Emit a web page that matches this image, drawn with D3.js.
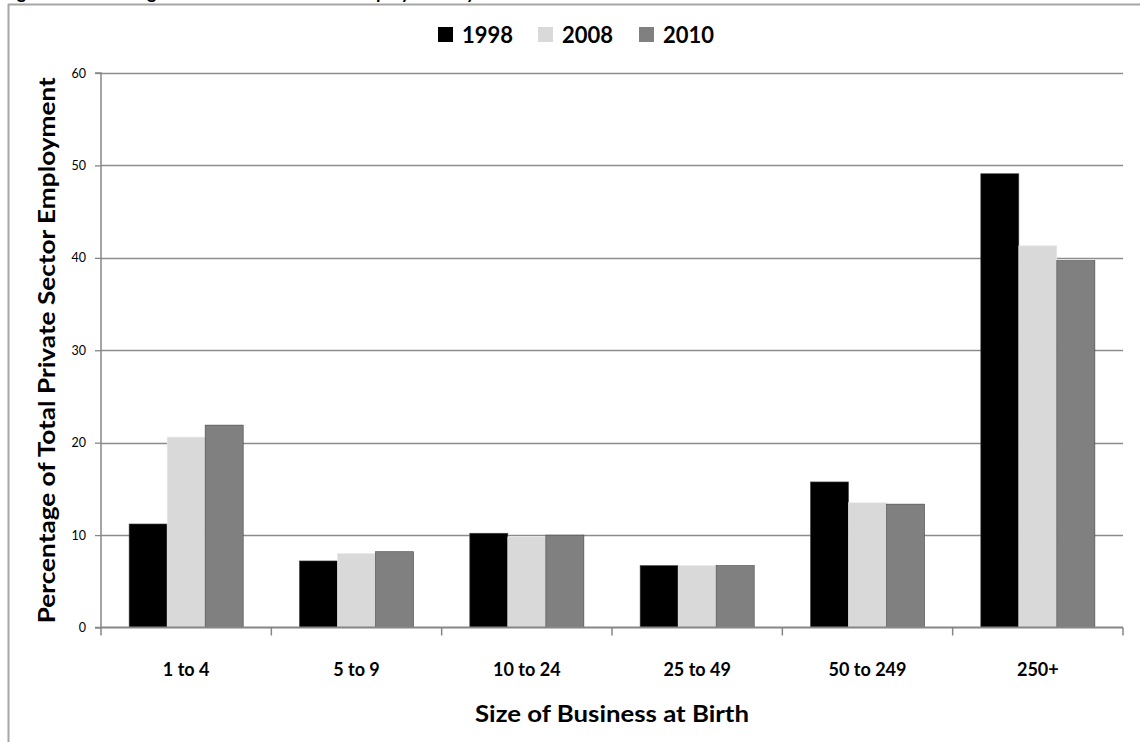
<!DOCTYPE html>
<html><head><meta charset="utf-8">
<script src="https://cdn.jsdelivr.net/npm/d3@7"></script>
<style>
html,body{margin:0;padding:0;background:#fff;}
svg{display:block;}
text{font-family:Lato,"Open Sans",sans-serif;}
</style></head>
<body><svg id="c" width="1140" height="742"></svg>
<script>
const categories = ["1 to 4","5 to 9","10 to 24","25 to 49","50 to 249","250+"];
const seriesNames = ["1998","2008","2010"];
const values1998 = [11.2, 7.2, 10.2, 6.7, 15.75, 49.1];
const values2008 = [20.6, 8.0, 9.8, 6.7, 13.5, 41.3];
const values2010 = [21.9, 8.2, 10.0, 6.7, 13.35, 39.7];
const colors = ["#000000","#d9d9d9","#808080"];
const yTicks = [0,10,20,30,40,50,60];

const seriesValues = [values1998, values2008, values2010];
const svg = d3.select("#c");

// frame
svg.append("line").attr("x1",8).attr("x2",1140).attr("y1",4.5).attr("y2",4.5).attr("stroke","#a6a6a6").attr("stroke-width",2);
svg.append("line").attr("x1",8.5).attr("x2",8.5).attr("y1",4).attr("y2",742).attr("stroke","#a6a6a6").attr("stroke-width",2);
// title (cut off at the top edge, as in the source)
svg.append("text").attr("x",2).attr("y",-1).attr("font-weight","bold").attr("font-size",18)
  .text("Figure 4: Percentage of Total Private Sector Employment by Size of Business at Birth");

const pLeft = 101, pRight = 1123, pTop = 73, pBottom = 627.5;
const x0 = d3.scaleBand().domain(categories).range([pLeft,pRight]).padding(0);
const x1 = d3.scaleBand().domain(seriesNames).range([0,x0.bandwidth()]).paddingInner(0).paddingOuter(0.74);
const y = d3.scaleLinear().domain([0,60]).range([pBottom,pTop]);

// gridlines
svg.append("g").selectAll("line").data(yTicks.filter(d=>d>0)).join("line")
  .attr("x1",pLeft).attr("x2",pRight).attr("y1",d=>Math.round(y(d))+0.5).attr("y2",d=>Math.round(y(d))+0.5)
  .attr("stroke","#8c8c8c").attr("stroke-width",1.3);

// y axis
const yAxis = svg.append("g").attr("transform",`translate(${pLeft},0)`)
  .call(d3.axisLeft(y).tickValues(yTicks).tickSize(6).tickPadding(9));
yAxis.select(".domain").attr("stroke","#868686").attr("stroke-width",1.5).attr("d",`M-6,${y(60)}H0V${pBottom}H-6`);
yAxis.selectAll(".tick line").attr("stroke","#868686").attr("stroke-width",1.3);
yAxis.selectAll(".tick text").attr("font-family","'DejaVu Sans',sans-serif").attr("font-size",12.5).attr("fill","#000");

// bars
const groups = svg.append("g").selectAll("g").data(categories).join("g")
  .attr("transform",d=>`translate(${x0(d)},0)`);
groups.selectAll("rect").data((c,i)=>seriesNames.map((s,j)=>({s, v:seriesValues[j][i], j}))).join("rect")
  .attr("x",d=>x1(d.s)).attr("width",x1.bandwidth())
  .attr("y",d=>y(d.v)).attr("height",d=>y(0)-y(d.v))
  .attr("fill",d=>colors[d.j]).attr("stroke",d=>d.j===1?"#e8e8e8":"#444").attr("stroke-width",0.6);

// x axis
const xAxis = svg.append("g").attr("transform",`translate(0,${pBottom})`)
  .call(d3.axisBottom(x0).tickSize(0).tickPadding(36));
xAxis.select(".domain").attr("stroke","#868686").attr("stroke-width",1.8).attr("d",`M${pLeft},0H${pRight}`);
xAxis.selectAll(".tick text").attr("font-weight","bold").attr("font-size",18).attr("fill","#000")
  .attr("dy","0.71em");
// category boundary ticks
const bounds = categories.map(c=>x0(c)).concat([pRight]);
svg.append("g").selectAll("line").data(bounds).join("line")
  .attr("x1",d=>d).attr("x2",d=>d).attr("y1",pBottom).attr("y2",pBottom+8)
  .attr("stroke","#868686").attr("stroke-width",1.5);

// axis titles
svg.append("text").attr("x",612).attr("y",722).attr("text-anchor","middle")
  .attr("font-weight","bold").attr("font-size",22).attr("textLength",274).attr("lengthAdjust","spacingAndGlyphs")
  .text("Size of Business at Birth");
svg.append("text").attr("transform",`translate(55,${(pTop+pBottom)/2}) rotate(-90)`).attr("text-anchor","middle")
  .attr("font-weight","bold").attr("font-size",22).attr("textLength",546).attr("lengthAdjust","spacingAndGlyphs")
  .text("Percentage of Total Private Sector Employment");

// legend
const legendX = [438, 538, 639];
const lg = svg.append("g").selectAll("g").data(seriesNames).join("g")
  .attr("transform",(d,i)=>`translate(${legendX[i]},27)`);
lg.append("rect").attr("width",15).attr("height",15).attr("fill",(d,i)=>colors[i]);
lg.append("text").attr("x",24).attr("y",16).attr("font-weight","bold").attr("font-size",22).text(d=>d);
</script></body></html>
